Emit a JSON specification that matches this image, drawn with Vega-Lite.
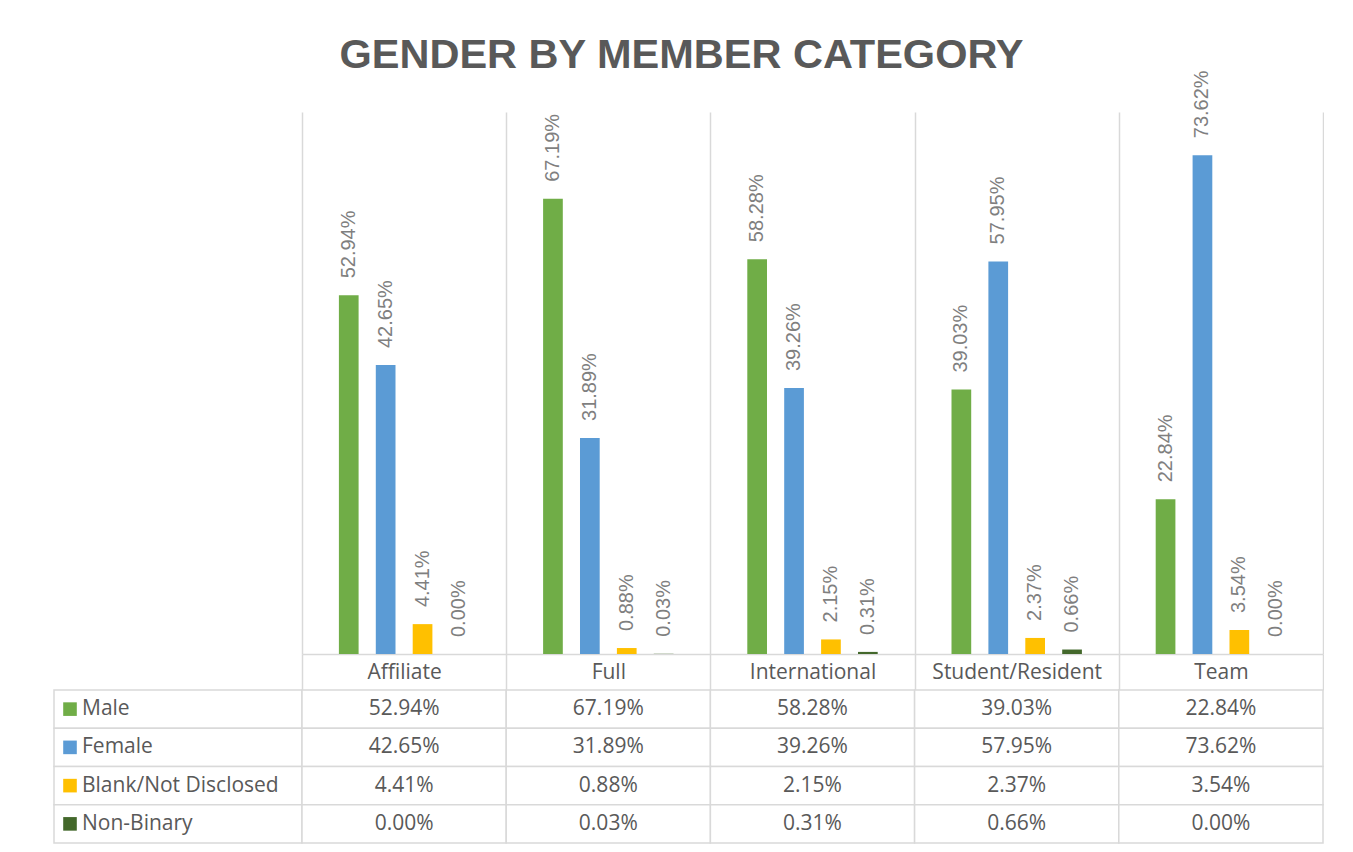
{
  "$schema": "https://vega.github.io/schema/vega-lite/v6.json",
  "background": "white",
  "padding": {"top": 34, "left": 53, "right": 0, "bottom": 0},
  "config": {"view": {"stroke": null}},
  "title": {"text": "GENDER BY MEMBER CATEGORY", "font": "Liberation Sans", "fontSize": 41.5, "fontWeight": "bold", "color": "#595959", "anchor": "middle", "dx": -7, "offset": -6},
  "datasets": {
    "gender": [
      {"category": "Affiliate", "series": "Male", "value": 0.5294},
      {"category": "Affiliate", "series": "Female", "value": 0.4265},
      {"category": "Affiliate", "series": "Blank/Not Disclosed", "value": 0.0441},
      {"category": "Affiliate", "series": "Non-Binary", "value": 0.0},
      {"category": "Full", "series": "Male", "value": 0.6719},
      {"category": "Full", "series": "Female", "value": 0.3189},
      {"category": "Full", "series": "Blank/Not Disclosed", "value": 0.0088},
      {"category": "Full", "series": "Non-Binary", "value": 0.0003},
      {"category": "International", "series": "Male", "value": 0.5828},
      {"category": "International", "series": "Female", "value": 0.3926},
      {"category": "International", "series": "Blank/Not Disclosed", "value": 0.0215},
      {"category": "International", "series": "Non-Binary", "value": 0.0031},
      {"category": "Student/Resident", "series": "Male", "value": 0.3903},
      {"category": "Student/Resident", "series": "Female", "value": 0.5795},
      {"category": "Student/Resident", "series": "Blank/Not Disclosed", "value": 0.0237},
      {"category": "Student/Resident", "series": "Non-Binary", "value": 0.0066},
      {"category": "Team", "series": "Male", "value": 0.2284},
      {"category": "Team", "series": "Female", "value": 0.7362},
      {"category": "Team", "series": "Blank/Not Disclosed", "value": 0.0354},
      {"category": "Team", "series": "Non-Binary", "value": 0.0}
    ],
    "series": [
      {"series": "Male"},
      {"series": "Female"},
      {"series": "Blank/Not Disclosed"},
      {"series": "Non-Binary"}
    ]
  },
  "columns": 2,
  "spacing": {"row": 36, "column": 0},
  "align": "each",
  "bounds": "flush",
  "concat": [
    {
      "width": 248,
      "height": 542,
      "data": {"values": [{"k": 1}]},
      "mark": {"type": "point", "opacity": 0},
      "encoding": {}
    },
    {
      "width": 1021,
      "height": 542,
      "data": {"name": "gender"},
      "encoding": {
        "x": {
          "field": "category", "type": "nominal",
          "sort": ["Affiliate", "Full", "International", "Student/Resident", "Team"],
          "scale": {"paddingInner": 0, "paddingOuter": 0},
          "axis": {
            "title": null, "orient": "bottom",
            "domain": true, "domainColor": "#d9d9d9", "domainWidth": 1.5,
            "grid": true, "gridColor": "#d9d9d9", "gridWidth": 1.5,
            "tickBand": "extent", "ticks": true, "tickSize": 36, "tickColor": "#d9d9d9", "tickWidth": 1.5,
            "labelPadding": -18, "labelBaseline": "middle", "labelAngle": 0,
            "labelFont": "Open Sans", "labelFontSize": 21, "labelColor": "#595959"
          }
        },
        "xOffset": {
          "field": "series", "type": "nominal",
          "sort": ["Male", "Female", "Blank/Not Disclosed", "Non-Binary"],
          "scale": {"paddingInner": 0.466, "paddingOuter": 1.15}
        },
        "y": {"field": "value", "type": "quantitative", "scale": {"domain": [0, 0.8], "nice": false}, "axis": null}
      },
      "layer": [
        {
          "mark": {"type": "bar"},
          "encoding": {
            "color": {
              "field": "series", "type": "nominal",
              "scale": {"domain": ["Male", "Female", "Blank/Not Disclosed", "Non-Binary"], "range": ["#70AD47", "#5B9BD5", "#FFC000", "#43682B"]},
              "legend": null
            }
          }
        },
        {
          "mark": {"type": "text", "angle": 270, "align": "left", "baseline": "middle", "dx": 17, "font": "Liberation Sans", "fontSize": 20, "color": "#7f7f7f"},
          "encoding": {"text": {"field": "value", "type": "quantitative", "format": ".2%"}}
        }
      ]
    },
    {
      "width": 248,
      "height": 153,
      "data": {"name": "series"},
      "encoding": {
        "y": {"field": "series", "type": "nominal", "scale": {"domain": ["Male", "Female", "Blank/Not Disclosed", "Non-Binary"], "paddingInner": 0, "paddingOuter": 0}, "axis": null}
      },
      "layer": [
        {
          "mark": {"type": "rect", "fill": "white", "stroke": "#d9d9d9", "strokeWidth": 1.5},
          "encoding": {"x": {"datum": "c", "type": "nominal", "scale": {"paddingInner": 0, "paddingOuter": 0}, "axis": null}}
        },
        {
          "mark": {"type": "point", "shape": "square", "filled": true, "opacity": 1, "size": 185, "xOffset": 16},
          "encoding": {
            "x": {"datum": "c", "type": "nominal", "bandPosition": 0, "axis": null},
            "color": {
              "field": "series", "type": "nominal",
              "scale": {"domain": ["Male", "Female", "Blank/Not Disclosed", "Non-Binary"], "range": ["#70AD47", "#5B9BD5", "#FFC000", "#43682B"]},
              "legend": null
            }
          }
        },
        {
          "mark": {"type": "text", "align": "left", "baseline": "middle", "dx": 28, "font": "Open Sans", "fontSize": 21, "color": "#595959"},
          "encoding": {
            "x": {"datum": "c", "type": "nominal", "bandPosition": 0, "axis": null},
            "text": {"field": "series"}
          }
        }
      ]
    },
    {
      "width": 1021,
      "height": 153,
      "data": {"name": "gender"},
      "encoding": {
        "x": {"field": "category", "type": "nominal", "sort": ["Affiliate", "Full", "International", "Student/Resident", "Team"], "scale": {"paddingInner": 0, "paddingOuter": 0}, "axis": null},
        "y": {"field": "series", "type": "nominal", "scale": {"domain": ["Male", "Female", "Blank/Not Disclosed", "Non-Binary"], "paddingInner": 0, "paddingOuter": 0}, "axis": null}
      },
      "layer": [
        {"mark": {"type": "rect", "fill": "white", "stroke": "#d9d9d9", "strokeWidth": 1.5}},
        {
          "mark": {"type": "text", "baseline": "middle", "font": "Open Sans", "fontSize": 21, "color": "#595959"},
          "encoding": {"text": {"field": "value", "type": "quantitative", "format": ".2%"}}
        }
      ]
    }
  ]
}
